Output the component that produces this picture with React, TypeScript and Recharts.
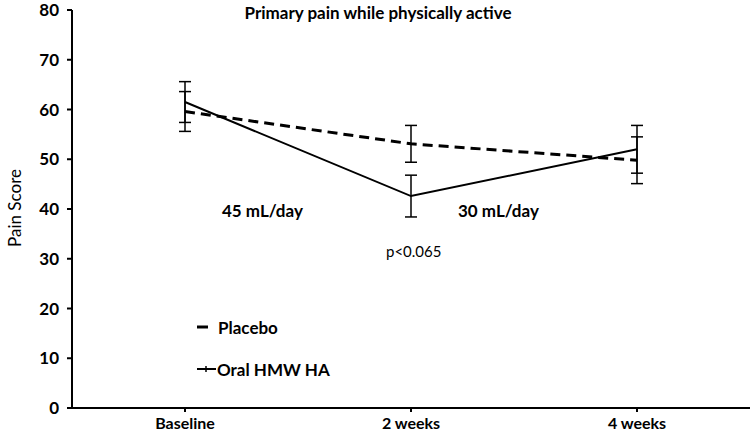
import React from "react";
import { LineChart, Line, XAxis, YAxis, ErrorBar } from "recharts";

const categories = ["Baseline", "2 weeks", "4 weeks"];
const oralHA = [61.5, 42.6, 52.0];
const oralHAErr = [4.1, 4.2, 4.8];
const placebo = [59.6, 53.1, 49.8];
const placeboErr = [4.0, 3.7, 4.7];
const yTicks = [0, 10, 20, 30, 40, 50, 60, 70, 80];

const data = categories.map((c, i) => ({
  name: c,
  ha: oralHA[i],
  haErr: oralHAErr[i],
  pl: placebo[i],
  plErr: placeboErr[i],
}));

const FONT = "Lato, 'Open Sans', sans-serif";

const txt = (extra: React.CSSProperties): React.CSSProperties => ({
  position: "absolute",
  fontFamily: FONT,
  color: "#000",
  whiteSpace: "nowrap",
  lineHeight: 1,
  ...extra,
});

export default function App() {
  return (
    <div style={{ position: "absolute", left: 0, top: 0, width: 750, height: 440, background: "#fff" }}>
      <LineChart
        width={750}
        height={440}
        data={data}
        margin={{ top: 10, right: 0, bottom: 0, left: 0 }}
      >
        <XAxis
          dataKey="name"
          height={32}
          padding={{ left: 113, right: 113 }}
          axisLine={{ stroke: "#000", strokeWidth: 2 }}
          tickLine={{ stroke: "#000", strokeWidth: 2 }}
          tickSize={4}
          tick={{ fill: "#000", fontFamily: FONT, fontWeight: 700, fontSize: 16 }}
          tickMargin={6}
        />
        <YAxis
          width={72}
          domain={[0, 80]}
          ticks={yTicks}
          interval={0}
          axisLine={{ stroke: "#000", strokeWidth: 2 }}
          tickLine={{ stroke: "#000", strokeWidth: 2 }}
          tickSize={5}
          tickMargin={8}
          tick={{ fill: "#000", fontFamily: FONT, fontWeight: 700, fontSize: 17 }}
        />
        <Line
          dataKey="pl"
          stroke="#000"
          strokeWidth={3}
          strokeDasharray="10 6"
          dot={false}
          isAnimationActive={false}
        >
          <ErrorBar dataKey="plErr" width={6} stroke="#000" strokeWidth={1.5} direction="y" />
        </Line>
        <Line
          dataKey="ha"
          stroke="#000"
          strokeWidth={2}
          dot={false}
          isAnimationActive={false}
        >
          <ErrorBar dataKey="haErr" width={6} stroke="#000" strokeWidth={1.5} direction="y" />
        </Line>
      </LineChart>

      <div style={txt({ left: 0, width: 756, top: 4, textAlign: "center", fontWeight: 700, fontSize: 17 })}>
        Primary pain while physically active
      </div>
      <div
        style={txt({
          left: 14,
          top: 208,
          fontSize: 17,
          transform: "translate(-50%, -50%) rotate(-90deg)",
        })}
      >
        Pain Score
      </div>
      <div style={txt({ left: 222, top: 202, fontWeight: 700, fontSize: 17 })}>45 mL/day</div>
      <div style={txt({ left: 458, top: 202, fontWeight: 700, fontSize: 17 })}>30 mL/day</div>
      <div style={txt({ left: 386, top: 244, fontSize: 15 })}>p&lt;0.065</div>

      <svg style={{ position: "absolute", left: 0, top: 0 }} width={750} height={440}>
        <line x1={197} y1={327} x2={208} y2={327} stroke="#000" strokeWidth={3} />
        <line x1={197} y1={369} x2={216} y2={369} stroke="#000" strokeWidth={2} />
        <line x1={206} y1={366} x2={206} y2={372} stroke="#000" strokeWidth={1.5} />
      </svg>
      <div style={txt({ left: 218, top: 319, fontWeight: 700, fontSize: 17 })}>Placebo</div>
      <div style={txt({ left: 217, top: 361, fontWeight: 700, fontSize: 17 })}>Oral HMW HA</div>
    </div>
  );
}
